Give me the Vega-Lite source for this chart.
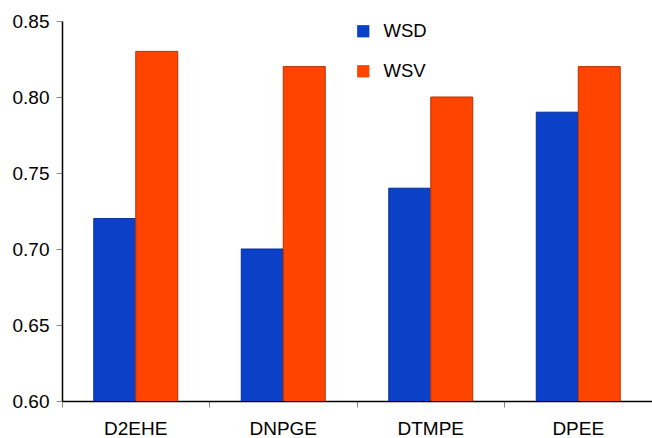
{
  "$schema": "https://vega.github.io/schema/vega-lite/v6.json",
  "width": 590,
  "height": 380,
  "autosize": {"type": "none"},
  "padding": {"left": 62, "top": 21, "right": 0, "bottom": 37},
  "background": "white",
  "config": {
    "view": {"stroke": null},
    "font": "Liberation Sans"
  },
  "data": {
    "values": [
      {"solvent": "D2EHE", "series": "WSD", "value": 0.72},
      {"solvent": "D2EHE", "series": "WSV", "value": 0.83},
      {"solvent": "DNPGE", "series": "WSD", "value": 0.70},
      {"solvent": "DNPGE", "series": "WSV", "value": 0.82},
      {"solvent": "DTMPE", "series": "WSD", "value": 0.74},
      {"solvent": "DTMPE", "series": "WSV", "value": 0.80},
      {"solvent": "DPEE", "series": "WSD", "value": 0.79},
      {"solvent": "DPEE", "series": "WSV", "value": 0.82}
    ]
  },
  "mark": {"type": "bar", "strokeWidth": 1, "clip": true},
  "encoding": {
    "x": {
      "field": "solvent",
      "type": "nominal",
      "sort": ["D2EHE", "DNPGE", "DTMPE", "DPEE"],
      "scale": {"paddingInner": 0, "paddingOuter": 0},
      "axis": {
        "title": null,
        "labelAngle": 0,
        "bandPosition": 0,
        "domainColor": "black",
        "domainWidth": 1.5,
        "tickColor": "#888888",
        "tickSize": 6,
        "labelPadding": 12,
        "labelFontSize": 19,
        "labelColor": "black"
      }
    },
    "xOffset": {
      "field": "series",
      "type": "nominal",
      "scale": {"paddingInner": 0, "paddingOuter": 0.757}
    },
    "y": {
      "field": "value",
      "type": "quantitative",
      "scale": {"domain": [0.6, 0.85], "zero": false, "nice": false},
      "axis": {
        "title": null,
        "values": [0.6, 0.65, 0.7, 0.75, 0.8, 0.85],
        "format": ".2f",
        "grid": false,
        "domainColor": "black",
        "domainWidth": 1.5,
        "tickColor": "#888888",
        "tickSize": 6,
        "labelPadding": 7,
        "labelFontSize": 19,
        "labelColor": "black"
      }
    },
    "color": {
      "field": "series",
      "type": "nominal",
      "scale": {"domain": ["WSD", "WSV"], "range": ["#0B40C8", "#FF4400"]},
      "legend": {
        "title": null,
        "orient": "none",
        "legendX": 292,
        "legendY": 1,
        "symbolType": "square",
        "symbolSize": 150,
        "symbolStrokeWidth": 0,
        "labelFontSize": 18.5,
        "labelColor": "black",
        "labelOffset": 11,
        "rowPadding": 21
      }
    },
    "stroke": {
      "field": "series",
      "type": "nominal",
      "scale": {"domain": ["WSD", "WSV"], "range": ["#062F96", "#B83000"]},
      "legend": null
    }
  }
}
